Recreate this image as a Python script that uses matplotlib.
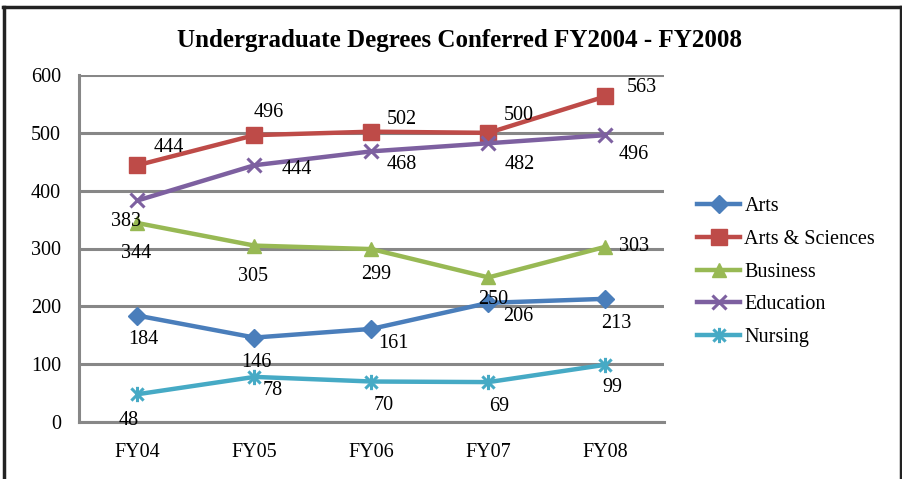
import matplotlib
matplotlib.use("Agg")
import matplotlib.pyplot as plt
from matplotlib.path import Path
from matplotlib.lines import Line2D

categories = ["FY04", "FY05", "FY06", "FY07", "FY08"]
arts = [184, 146, 161, 206, 213]
arts_sciences = [444, 496, 502, 500, 563]
business = [344, 305, 299, 250, 303]
education = [383, 444, 468, 482, 496]
nursing = [48, 78, 70, 69, 99]
series_names = ["Arts", "Arts & Sciences", "Business", "Education", "Nursing"]
yticks = [0, 100, 200, 300, 400, 500, 600]

W, H = 903, 479
plt.rcParams['font.family'] = ['Liberation Serif', 'DejaVu Serif']
fig = plt.figure(figsize=(W / 100, H / 100), dpi=100)
FS = 14.5

def fx(px):
    return px / W

def fy(py):
    return 1 - py / H

ax = fig.add_axes([fx(79), fy(422), fx(664) - fx(79), fy(75) - fy(422)])

star = Path([(-1, -1), (1, 1), (-1, 1), (1, -1), (0, -1.25), (0, 1.25)],
            [Path.MOVETO, Path.LINETO, Path.MOVETO, Path.LINETO, Path.MOVETO, Path.LINETO])

data = [arts, arts_sciences, business, education, nursing]
colors = ["#4A7EBB", "#BE4B48", "#98B954", "#7D60A0", "#46AAC5"]
markers = ["D", "s", "^", "x", star]
msizes = [9, 11, 10, 10, 11]
mews = [1, 1, 1, 2.2, 2.2]

# label offsets in pixels (dx, dy up positive)
offsets = [
    [(6, -24), (2, -25), (22, -15), (30, -14), (11, -25)],
    [(31, 18), (14, 23), (30, 12), (30, 17), (36, 9)],
    [(-1, -30), (-1, -31), (5, -25), (5, -22), (29, 0)],
    [(-11, -21), (42, -4), (30, -13), (31, -21), (28, -19)],
    [(-9, -26), (18, -14), (12, -24), (11, -24), (7, -23)],
]

x = list(range(len(categories)))
handles = []
for vals, c, m, ms, mew, offs, name in zip(data, colors, markers, msizes, mews, offsets, series_names):
    ax.plot(x, vals, color=c, lw=3.2, marker=m, ms=ms, mew=mew, mec=c, mfc=c,
            zorder=3, solid_capstyle='round')
    for xi, v, (dx, dy) in zip(x, vals, offs):
        ax.annotate(str(v), (xi, v), xytext=(dx, dy), textcoords='offset pixels',
                    ha='center', va='center', fontsize=FS, color='black', zorder=4)
    handles.append(Line2D([], [], color=c, lw=3.2, marker=m, ms=ms, mew=mew, mec=c, mfc=c))

ax.set_xlim(-0.5, 4.5)
ax.set_ylim(0, 600)
ax.set_yticks(yticks)
ax.set_xticks(x)
ax.set_xticklabels(categories)
ax.tick_params(axis='both', length=0, labelsize=FS, pad=0)
ax.tick_params(axis='x', pad=15)
ax.tick_params(axis='y', pad=13)
ax.grid(axis='y', color='#878787', lw=2.2, zorder=1)
ax.set_axisbelow(True)
for s in ['top', 'right']:
    ax.spines[s].set_visible(False)
for s in ['left', 'bottom']:
    ax.spines[s].set_color('#878787')
    ax.spines[s].set_linewidth(2.2)

fig.text(fx(460), fy(40), "Undergraduate Degrees Conferred FY2004 - FY2008",
         ha='center', va='center', fontsize=18, fontweight='bold')

leg = fig.legend(handles, series_names, loc='upper left',
                 bbox_to_anchor=(fx(697), fy(197)), frameon=False, fontsize=FS,
                 handlelength=2.15, handletextpad=0.2, labelspacing=0.68,
                 borderaxespad=0, borderpad=0)

# outer border (left, top, right)
for (x0, y0, x1, y1) in [(4.5, 6.5, 4.5, 479), (3, 6.5, 902, 6.5), (901.5, 6.5, 901.5, 479)]:
    fig.add_artist(Line2D([fx(x0), fx(x1)], [fy(y0), fy(y1)], color='#222222', lw=2.5,
                          transform=fig.transFigure))

fig.savefig("out.png", dpi=100)
